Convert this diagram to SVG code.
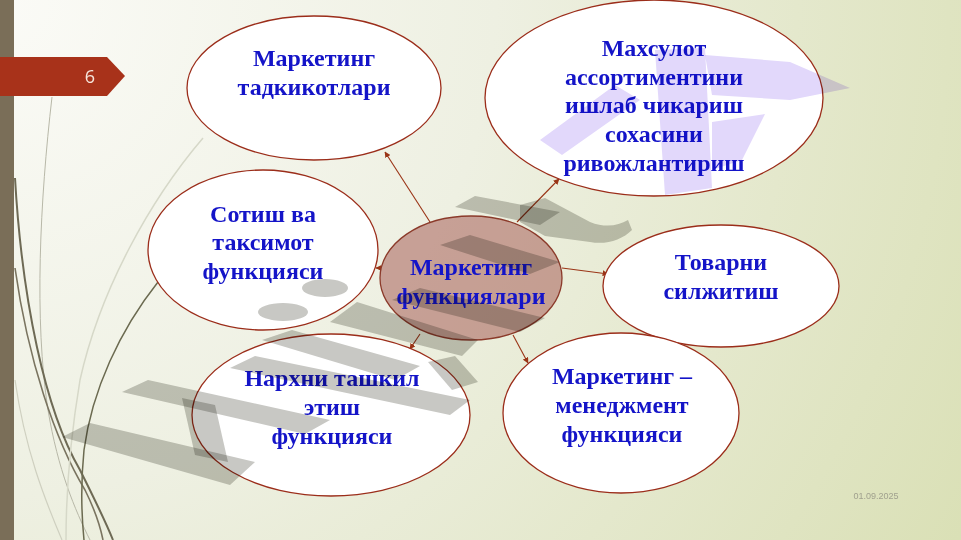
<svg xmlns="http://www.w3.org/2000/svg" width="961" height="540" viewBox="0 0 961 540">
<defs>
<radialGradient id="bg" cx="0" cy="0" r="1100" gradientUnits="userSpaceOnUse">
<stop offset="0" stop-color="#fbfbf7"/>
<stop offset="0.45" stop-color="#eef0e2"/>
<stop offset="1" stop-color="#dae0b6"/>
</radialGradient>
<marker id="ah" viewBox="0 0 10 10" refX="9" refY="5" markerWidth="6" markerHeight="6" markerUnits="userSpaceOnUse" orient="auto">
<path d="M0,0 L10,5 L0,10 z" fill="#9a3416"/>
</marker>
<style>
.node ellipse{fill:#ffffff;stroke:#9b2d1a;stroke-width:1.3}
.node text{font-family:"Liberation Serif","Times New Roman",serif;font-weight:bold;font-size:24px;fill:#1414c8;text-anchor:middle}
.conn line{stroke:#9a3416;stroke-width:1.1;marker-end:url(#ah)}
.curve{fill:none}
.wm{fill:#c8c8c4;mix-blend-mode:multiply}
.wp{fill:#e2d8fb;mix-blend-mode:multiply}
</style>
</defs>
<rect width="961" height="540" fill="url(#bg)"/>
<g id="decor">
<path class="curve" d="M52,97 C40,200 34,320 48,410 C58,470 75,510 90,540" stroke="#b8b8a8" stroke-width="1"/>
<path class="curve" d="M15,178 C22,300 45,410 80,470 C95,500 105,520 113,540" stroke="#6e6a55" stroke-width="2"/>
<path class="curve" d="M15,268 C28,360 55,440 85,490 C95,510 100,525 103,540" stroke="#7a7460" stroke-width="1.6"/>
<path class="curve" d="M158,282 C120,330 92,390 84,450 C80,490 82,520 84,540" stroke="#6b6a50" stroke-width="1.5"/>
<path class="curve" d="M203,138 C150,200 100,290 80,380 C70,440 66,500 66,540" stroke="#d6d8c8" stroke-width="1.5"/>
<path class="curve" d="M15,380 C25,450 45,500 62,540" stroke="#cfd0c0" stroke-width="1.2"/>
<rect x="0" y="0" width="14" height="540" fill="#7a6e58"/>
<polygon points="0,57 107,57 125,76 107,96 0,96" fill="#a8321a"/>
<text x="90" y="83" font-family="'Open Sans','Liberation Sans',sans-serif" font-size="18" fill="#f6e6dc" text-anchor="middle">6</text>
<text x="876" y="499" font-family="'Liberation Sans',Arial,sans-serif" font-size="9" fill="#a0a08e" text-anchor="middle">01.09.2025</text>
</g>
<g id="connectors" class="conn">
<line x1="430" y1="222" x2="385" y2="152"/>
<line x1="517" y1="222" x2="559" y2="179"/>
<line x1="381" y1="268" x2="376" y2="268"/>
<line x1="562" y1="268" x2="608" y2="274"/>
<line x1="420" y1="334" x2="410" y2="349"/>
<line x1="513" y1="335" x2="528" y2="363"/>
</g>
<g id="n-research" class="node">
<ellipse cx="314" cy="88" rx="127" ry="72"/>
<text x="314" y="66">Маркетинг</text>
<text x="314" y="95">тадкикотлари</text>
</g>
<g id="n-assortment" class="node">
<ellipse cx="654" cy="98" rx="169" ry="98"/>
<text x="654" y="56">Махсулот</text>
<text x="654" y="85">ассортиментини</text>
<text x="654" y="113">ишлаб чикариш</text>
<text x="654" y="142">сохасини</text>
<text x="654" y="171">ривожлантириш</text>
</g>
<g id="n-sales" class="node">
<ellipse cx="263" cy="250" rx="115" ry="80"/>
<text x="263" y="222">Сотиш ва</text>
<text x="263" y="250">таксимот</text>
<text x="263" y="279">функцияси</text>
</g>
<g id="n-promotion" class="node">
<ellipse cx="721" cy="286" rx="118" ry="61"/>
<text x="721" y="270">Товарни</text>
<text x="721" y="299">силжитиш</text>
</g>
<g id="n-pricing" class="node">
<ellipse cx="331" cy="415" rx="139" ry="81"/>
<text x="332" y="386">Нархни ташкил</text>
<text x="332" y="415">этиш</text>
<text x="332" y="444">функцияси</text>
</g>
<g id="n-management" class="node">
<ellipse cx="621" cy="413" rx="118" ry="80"/>
<text x="622" y="384">Маркетинг –</text>
<text x="622" y="413">менеджмент</text>
<text x="622" y="442">функцияси</text>
</g>
<g id="n-center" class="node">
<ellipse cx="471" cy="278" rx="91" ry="62" style="fill:#a0504a;fill-opacity:0.5;stroke:#8b3a2a"/>
<text x="471" y="275">Маркетинг</text>
<text x="471" y="304">функциялари</text>
</g>
<g id="watermark">
<polygon class="wp" points="540,140 615,85 640,100 562,155"/>
<polygon class="wp" points="655,50 705,48 712,188 665,195"/>
<polygon class="wp" points="705,55 790,62 850,88 790,100 712,95"/>
<polygon class="wp" points="712,122 765,114 742,160 712,170"/>
<polygon class="wm" points="62,437 90,423 255,462 230,485"/>
<polygon class="wm" points="122,392 148,380 330,420 305,434"/>
<polygon class="wm" points="182,398 215,405 228,462 195,455"/>
<polygon class="wm" points="230,368 255,356 470,400 450,415"/>
<polygon class="wm" points="262,340 292,330 420,366 395,380"/>
<polygon class="wm" points="428,362 455,356 478,382 452,390"/>
<ellipse class="wm" cx="325" cy="288" rx="23" ry="9"/>
<ellipse class="wm" cx="283" cy="312" rx="25" ry="9"/>
<polygon class="wm" points="330,322 357,302 478,340 462,356"/>
<polygon class="wm" points="392,300 420,288 545,318 520,332"/>
<polygon class="wm" points="440,245 470,235 560,262 530,274"/>
<polygon class="wm" points="455,207 475,196 560,212 540,225"/>
<path class="wm" d="M520,205 L545,198 L590,222 C605,228 618,226 628,220 L632,230 C622,240 606,245 590,242 L545,236 L520,222 z"/>
</g>
</svg>
